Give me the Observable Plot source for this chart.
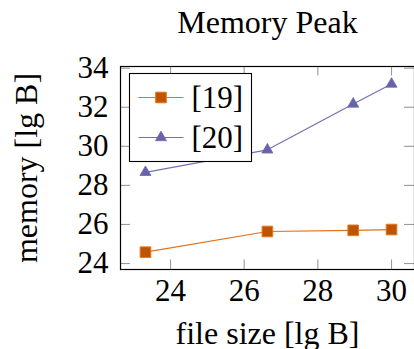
<!DOCTYPE html>
<html><head><meta charset="utf-8">
<script src="https://cdn.jsdelivr.net/npm/d3@7"></script>
<script src="https://cdn.jsdelivr.net/npm/@observablehq/plot@0.6"></script>
<style>
html,body{margin:0;padding:0;background:#fff}
#chart svg text{font-family:"Liberation Serif", serif !important;}
</style>
</head><body><div id="chart"></div>
<script>
const title = "Memory Peak";
const xLabel = "file size [lg B]";
const yLabel = "memory [lg B]";
const seriesNames = ["[19]", "[20]"];
const fileSize = [23.32, 26.63, 28.96, 30.0];
const mem19 = [24.58, 25.64, 25.70, 25.74];
const mem20 = [28.67, 29.82, 32.17, 33.19];
const xTicks = [24, 26, 28, 30];
const yTicks = [24, 26, 28, 30, 32, 34];

const W = 414, H = 349;
const mL = 120, mR = 0, mT = 66, mB = 80;
const frameW = W - mL - mR, frameH = H - mT - mB;
const FONT = "Liberation Serif";

const col19 = {line: "#e2701a", fill: "#bf5400", stroke: "#e8781e"};
const col20 = {line: "#7570b3", fill: "#6762ab", stroke: "#6f6ab0"};

const d19 = fileSize.map((x, i) => ({x, y: mem19[i], s: seriesNames[0]}));
const d20 = fileSize.map((x, i) => ({x, y: mem20[i], s: seriesNames[1]}));

const plot = Plot.plot({
  width: W, height: H,
  marginLeft: mL, marginRight: mR, marginTop: mT, marginBottom: mB,
  style: {fontFamily: FONT, background: "#fff", overflow: "visible"},
  x: {domain: [22.642, 30.624]},
  y: {domain: [23.694, 34.087]},
  marks: [
    // inward tick marks on all four sides
    Plot.tickX(xTicks, {x: d => d, stroke: "#9a9a9a", strokeWidth: 1.1, insetTop: frameH - 9.5}),
    Plot.tickX(xTicks, {x: d => d, stroke: "#9a9a9a", strokeWidth: 1.1, insetBottom: frameH - 9.5}),
    Plot.tickY(yTicks, {y: d => d, stroke: "#9a9a9a", strokeWidth: 1.1, insetRight: frameW - 10}),
    Plot.tickY(yTicks, {y: d => d, stroke: "#9a9a9a", strokeWidth: 1.1, insetLeft: frameW - 10}),
    Plot.axisX({ticks: xTicks, tickSize: 0, tickPadding: 9, label: null, fontSize: 31, fontFamily: FONT, fill: "#000"}),
    Plot.axisY({ticks: yTicks, tickSize: 0, tickPadding: 12, label: null, fontSize: 31, fontFamily: FONT, fill: "#000"}),
    Plot.frame({stroke: "#000", strokeWidth: 1.2}),
    Plot.line(d19, {x: "x", y: "y", stroke: col19.line, strokeWidth: 1.2}),
    Plot.line(d20, {x: "x", y: "y", stroke: col20.line, strokeWidth: 1.2}),
    Plot.dot(d19, {x: "x", y: "y", symbol: "square", r: 6, fill: col19.fill, stroke: col19.stroke, strokeWidth: 1}),
    Plot.dot(d20, {x: "x", y: "y", symbol: "triangle", r: 4.1, fill: col20.fill, stroke: col20.stroke, strokeWidth: 0.8}),
    Plot.text([title], {text: d => d, frameAnchor: "top", textAnchor: "middle", lineAnchor: "bottom", dy: 32 - mT, fontSize: 32, fontFamily: FONT, fill: "#000"}),
    Plot.text([xLabel], {text: d => d, frameAnchor: "bottom", textAnchor: "middle", lineAnchor: "bottom", dy: 343 - (H - mB), fontSize: 32, fontFamily: FONT, fill: "#000"}),
    Plot.text([yLabel], {text: d => d, frameAnchor: "left", textAnchor: "middle", rotate: -90, lineAnchor: "bottom", dx: 36 - mL, fontSize: 32, fontFamily: FONT, fill: "#000"})
  ]
});

// legend drawn inside the plot frame (upper left)
const svg = d3.select(plot);
const lg = svg.append("g").attr("transform", `translate(${mL + 9.5},${mT + 7.5})`);
const boxW = 122, boxH = 88;
lg.append("rect").attr("width", boxW).attr("height", boxH)
  .attr("fill", "#fff").attr("stroke", "#000").attr("stroke-width", 1.1);
const items = [
  {name: seriesNames[0], c: col19, sym: d3.symbolSquare, size: Math.PI * 6 * 6, sw: 1},
  {name: seriesNames[1], c: col20, sym: d3.symbolTriangle, size: Math.PI * 4.1 * 4.1, sw: 0.8}
];
items.forEach((it, i) => {
  const cy = 24 + i * 40;
  lg.append("line").attr("x1", 9).attr("x2", 54).attr("y1", cy).attr("y2", cy)
    .attr("stroke", it.c.line).attr("stroke-width", 1.2);
  lg.append("path").attr("d", d3.symbol(it.sym, it.size)())
    .attr("transform", `translate(31.5,${cy})`)
    .attr("fill", it.c.fill).attr("stroke", it.c.stroke).attr("stroke-width", it.sw);
  lg.append("text").attr("x", 62).attr("y", cy + 10)
    .attr("text-anchor", "start")
    .attr("font-family", FONT).attr("font-size", 31).attr("fill", "#000")
    .text(it.name);
});

document.getElementById("chart").appendChild(plot);
</script>
</body></html>
